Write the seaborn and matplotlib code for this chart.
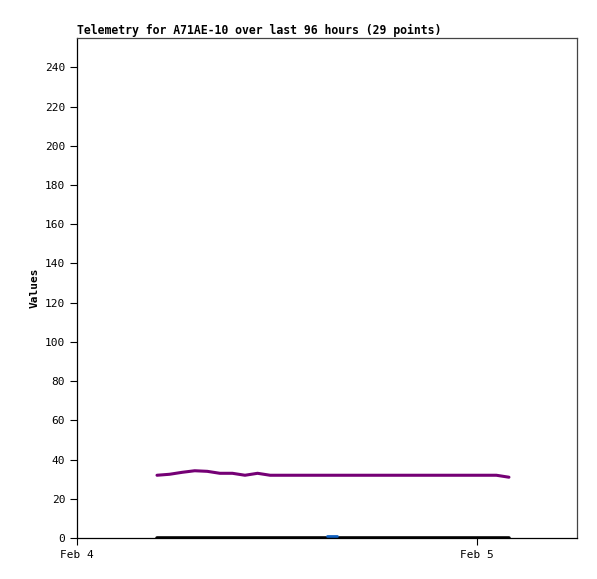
import pandas as pd
import numpy as np
import matplotlib
matplotlib.use("Agg")
import matplotlib.pyplot as plt
import matplotlib.dates as mdates
import seaborn as sns

# 29 samples, ~45 min apart, starting Feb 4 04:48
start = pd.Timestamp("2024-02-04 04:48")
times = [start + pd.Timedelta(minutes=45.25 * i) for i in range(29)]

purple_vals = [32, 32.5, 33.5, 34.3, 34, 33, 33, 32, 33, 32,
               32, 32, 32, 32, 32, 32, 32, 32, 32, 32,
               32, 32, 32, 32, 32, 32, 32, 32, 31]
black_vals = [0] * 29
blue_times = [pd.Timestamp("2024-02-04 14:59"), pd.Timestamp("2024-02-04 15:35")]
blue_vals = [0.9, 0.9]

df = pd.DataFrame({"time": times, "purple": purple_vals, "black": black_vals})
df_blue = pd.DataFrame({"time": blue_times, "blue": blue_vals})

sns.set_style("ticks")
plt.rcParams["font.family"] = ["DejaVu Sans Mono"]
plt.rcParams["text.color"] = "black"
plt.rcParams["xtick.color"] = "black"
plt.rcParams["ytick.color"] = "black"
plt.rcParams["axes.labelcolor"] = "black"

fig = plt.figure(figsize=(5.97, 5.79), dpi=100)
ax = fig.add_axes([77 / 597, 1 - 538 / 579, 500 / 597, 500 / 579])

sns.lineplot(data=df, x="time", y="purple", ax=ax, color="#750075", linewidth=2.2)
sns.lineplot(data=df, x="time", y="black", ax=ax, color="black", linewidth=2.6)
sns.lineplot(data=df_blue, x="time", y="blue", ax=ax, color="#1060c0", linewidth=2.0)

ax.set_xlim(pd.Timestamp("2024-02-04 00:00"), pd.Timestamp("2024-02-05 06:00"))
ax.set_ylim(0, 255)
ax.set_yticks(range(0, 241, 20))
ax.set_xticks([pd.Timestamp("2024-02-04"), pd.Timestamp("2024-02-05")])
ax.xaxis.set_major_formatter(mdates.DateFormatter("%b %-d"))
ax.tick_params(axis="both", labelsize=8, length=5, width=0.8, color="black",
               labelcolor="black")
ax.set_xlabel("")
ax.set_ylabel("Values", fontsize=8, fontweight="bold", color="black")
ax.set_title("Telemetry for A71AE-10 over last 96 hours (29 points)",
             fontsize=8.3, fontweight="bold", loc="left", pad=3, color="black")
for s in ["top", "right"]:
    ax.spines[s].set_visible(True)
    ax.spines[s].set_color("#444444")
for s in ["left", "bottom"]:
    ax.spines[s].set_color("black")
for s in ax.spines.values():
    s.set_linewidth(0.9)

fig.savefig("out.png", dpi=100)
